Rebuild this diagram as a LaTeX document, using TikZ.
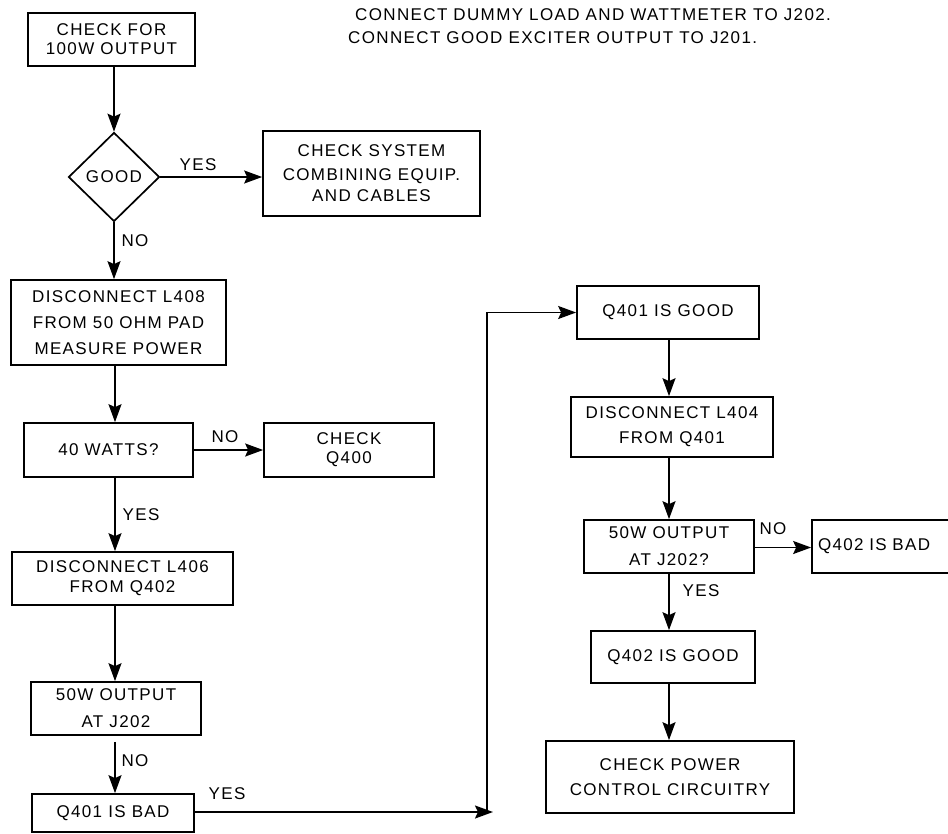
\documentclass[tikz,border=0pt]{standalone}
\usepackage{fontspec}
\setmainfont{Liberation Sans}[LetterSpace=8]
\usetikzlibrary{arrows.meta,shapes.geometric}
\begin{document}
\begin{tikzpicture}[x=1pt,y=-1pt,
  every node/.style={font=\fontsize{17}{22}\selectfont},
  box/.style={draw,line width=1.7pt,inner sep=0pt,align=center},
  dia/.style={draw,diamond,line width=1.7pt,inner sep=0pt},
  lbl/.style={inner sep=0pt},
  arr/.style={line width=1.7pt,-{Stealth[length=18pt,width=13pt,inset=3pt]}}]
\useasboundingbox (0,0) rectangle (948,833);
% top note
\node[lbl,anchor=west] (n1) at (355,15) {CONNECT DUMMY LOAD AND WATTMETER TO J202.};
\node[lbl,anchor=west] (n2) at (348,38) {CONNECT GOOD EXCITER OUTPUT TO J201.};
% left column
\node[box,minimum width=167,minimum height=53,font=\fontsize{17}{19}\selectfont] (b1) at (111.5,39.5) {CHECK FOR\\100W OUTPUT};
\node[dia,minimum width=91,minimum height=89] (d) at (114,177) {GOOD};
\node[box,minimum width=217,minimum height=85,font=\fontsize{17}{21}\selectfont] (sys) at (371.5,173.5) {CHECK SYSTEM\\[3pt]COMBINING EQUIP.\\AND CABLES};
\node[box,minimum width=215,minimum height=85,font=\fontsize{17}{26}\selectfont] (l408) at (118.5,322.5) {DISCONNECT L408\\FROM 50 OHM PAD\\MEASURE POWER};
\node[box,minimum width=169,minimum height=54] (w40) at (108.5,450) {40 WATTS?};
\node[box,minimum width=170,minimum height=54,font=\fontsize{17}{19}\selectfont] (q400) at (349,450) {CHECK\\Q400};
\node[box,minimum width=221,minimum height=53,font=\fontsize{17}{20}\selectfont] (l406) at (122.5,578.5) {DISCONNECT L406\\FROM Q402};
\node[box,minimum width=170,minimum height=53,font=\fontsize{17}{27}\selectfont] (o50) at (116,708.5) {50W OUTPUT\\AT J202};
\node[box,minimum width=162,minimum height=38] (bad1) at (113,813) {Q401 IS BAD};
% right column
\node[box,minimum width=182,minimum height=53] (good1) at (668,312.5) {Q401 IS GOOD};
\node[box,minimum width=202,minimum height=60,font=\fontsize{17}{25}\selectfont] (l404) at (672,427) {DISCONNECT L404\\FROM Q401};
\node[box,minimum width=170,minimum height=53,font=\fontsize{17}{27}\selectfont] (o50b) at (669,546.5) {50W OUTPUT\\AT J202?};
\node[box,minimum width=140,minimum height=53,text width=128,align=left] (bad2) at (882,546.5) {Q402 IS BAD};
\node[box,minimum width=164,minimum height=52] (good2) at (673,657) {Q402 IS GOOD};
\node[box,minimum width=248,minimum height=72,font=\fontsize{17}{25}\selectfont] (cpc) at (670,777) {CHECK POWER\\CONTROL CIRCUITRY};
% connectors
\draw[arr] (d.north |- b1.south) -- (d.north);
\draw[arr] (d.east) -- (d.east -| sys.west);
\draw[arr] (d.south) -- (d.south |- l408.north);
\draw[arr] ([xshift=1]d.south |- l408.south) -- ([xshift=1]d.south |- w40.north);
\draw[arr] (w40.east) -- (w40.east -| q400.west);
\draw[arr] ([xshift=1]d.south |- w40.south) -- ([xshift=1]d.south |- l406.north);
\draw[arr] ([xshift=1]d.south |- l406.south) -- ([xshift=1]d.south |- o50.north);
\draw[arr,shorten <=6pt] ([xshift=1]d.south |- o50.south) -- ([xshift=1]d.south |- bad1.north);
\coordinate (jt) at (493,812);
\coordinate (jv) at (487,812);
\draw[arr] (bad1.east |- jt) -- (jt);
\draw[arr] (jv) |- (good1.west);
\draw[arr] (good1.south -| o50b.north) -- (o50b.north |- l404.north);
\draw[arr] (l404.south -| o50b.north) -- (o50b.north);
\draw[arr] ([yshift=-1]o50b.east) -- ([yshift=-1]o50b.east -| bad2.west);
\draw[arr] (o50b.south) -- (o50b.south |- good2.north);
\draw[arr] (good2.south -| o50b.south) -- (o50b.south |- cpc.north);
% labels
\node[lbl] (y1) at (198,165) {YES};
\node[lbl] (no1) at (135,241) {NO};
\node[lbl] (no2) at (225,437) {NO};
\node[lbl] (y2) at (141,515) {YES};
\node[lbl] (no3) at (135,761) {NO};
\node[lbl] (y3) at (227,794) {YES};
\node[lbl] (no4) at (773,529) {NO};
\node[lbl] (y4) at (701,591) {YES};
\end{tikzpicture}
\end{document}
